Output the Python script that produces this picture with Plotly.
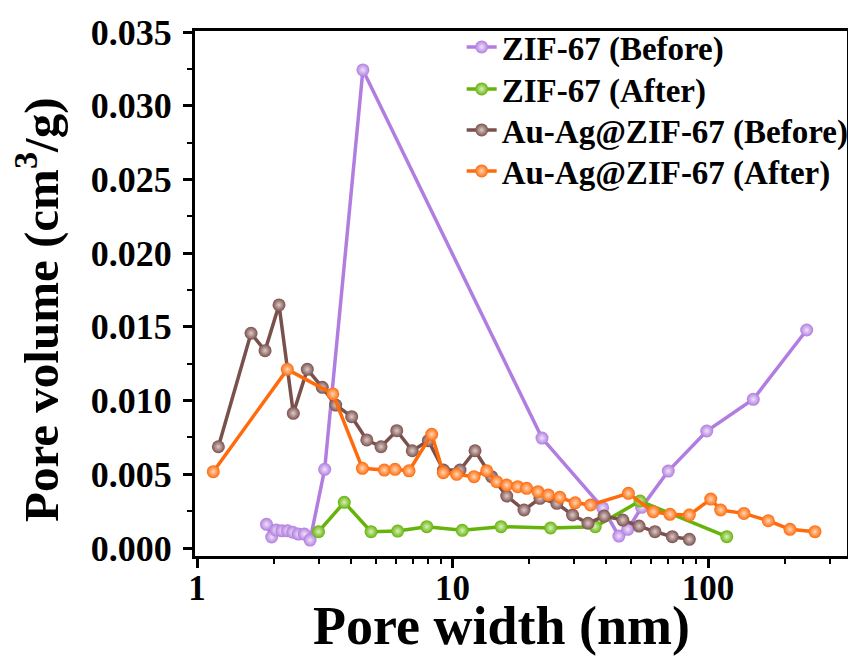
import plotly.graph_objects as go
import math

# ---------------- data ----------------
zif_before_x = [1.87, 1.96, 2.04, 2.15, 2.26, 2.37, 2.49, 2.63, 2.77, 3.16, 4.46, 22.4, 38.7, 44.8, 48.5, 55.0, 69.9, 98.9, 150.4, 243.4]
zif_before_y = [1.61, 0.75, 1.22, 1.17, 1.17, 1.07, 0.95, 0.95, 0.54, 5.34, 32.43, 7.46, 2.73, 0.81, 1.27, 2.76, 5.22, 7.94, 10.09, 14.79]

zif_after_x = [2.99, 3.77, 4.80, 6.10, 7.93, 10.92, 15.49, 24.2, 36.2, 54.2, 118.4]
zif_after_y = [1.11, 3.10, 1.11, 1.15, 1.45, 1.20, 1.45, 1.36, 1.45, 3.19, 0.77]

auag_before_x = [1.212, 1.627, 1.846, 2.094, 2.382, 2.702, 3.093, 3.49, 4.03, 4.62, 5.25, 6.05, 6.96, 8.04, 9.22,
                 10.70, 12.25, 14.23, 16.3, 19.05, 22.0, 25.6, 29.5, 33.9, 39.2, 46.4, 53.7, 62.0, 72.5, 84.5]
auag_before_y = [6.87, 14.57, 13.39, 16.49, 9.14, 12.12, 10.9, 9.70, 8.91, 7.33, 6.87, 7.96, 6.60, 7.28, 5.29,
                 5.29, 6.60, 4.84, 3.53, 2.58, 3.37, 3.03, 2.24, 1.68, 2.17, 1.90, 1.49, 1.11, 0.77, 0.59]

auag_after_x = [1.158, 2.256, 3.40, 4.44, 5.41, 5.96, 6.76, 8.29, 9.20, 10.38, 12.14, 13.61, 14.89, 16.3, 18.0, 19.5,
                21.6, 23.7, 26.3, 30.2, 34.7, 48.8, 61.1, 71.0, 84.5, 102.5, 112.1, 138.3, 172.2, 209.4, 262.3]
auag_after_y = [5.18, 12.12, 10.45, 5.41, 5.29, 5.34, 5.24, 7.71, 5.11, 5.00, 4.84, 5.24, 4.50, 4.27, 4.16, 4.05,
                3.82, 3.60, 3.44, 3.07, 2.92, 3.71, 2.46, 2.29, 2.24, 3.32, 2.58, 2.35, 1.85, 1.27, 1.11]

series_names = ["ZIF-67 (Before)", "ZIF-67 (After)", "Au-Ag@ZIF-67 (Before)", "Au-Ag@ZIF-67 (After)"]
series_colors = ["#B27DE0", "#66B30A", "#7A504C", "#FF6A0A"]
series_highlights = ["#EEE2F9", "#D8F0BA", "#DCCBC9", "#FFD6B6"]

x_tick_vals = [1, 10, 100]
x_tick_text = ["1", "10", "100"]
x_minor_vals = [2, 3, 4, 5, 6, 7, 8, 9, 20, 30, 40, 50, 60, 70, 80, 90, 200, 300]
y_tick_vals = [0.0, 0.005, 0.010, 0.015, 0.020, 0.025, 0.030, 0.035]
y_tick_text = ["0.000", "0.005", "0.010", "0.015", "0.020", "0.025", "0.030", "0.035"]

x_title = "Pore width (nm)"
y_title = "Pore volume (cm<sup>3</sup>/g)"

FONT = "Liberation Serif"
legend_ids = ["legend", "legend2", "legend3", "legend4"]
legend_y = [0.9695, 0.8895, 0.8114, 0.7333]

fig = go.Figure()
all_x = [zif_before_x, zif_after_x, auag_before_x, auag_after_x]
all_y = [zif_before_y, zif_after_y, auag_before_y, auag_after_y]
for name, xs, ys, col, hl, lg in zip(series_names, all_x, all_y, series_colors, series_highlights, legend_ids):
    fig.add_trace(go.Scatter(
        x=xs, y=[v / 1000.0 for v in ys], name=name, mode="lines+markers",
        line=dict(color=col, width=3.5),
        marker=dict(size=13, color=col, line=dict(width=0),
                    gradient=dict(type="radial", color=hl)),
        legend=lg,
    ))

legend_common = dict(x=0.409, xanchor="left", yanchor="middle",
                     bgcolor="rgba(0,0,0,0)", borderwidth=0,
                     font=dict(family=FONT, size=33, color="black", weight="bold"))
layout_legends = {}
for lg, yy in zip(legend_ids, legend_y):
    layout_legends[lg] = dict(legend_common, y=yy)

fig.update_layout(
    width=848, height=657,
    margin=dict(l=195, r=1, t=31, b=101, autoexpand=False),
    plot_bgcolor="white", paper_bgcolor="white",
    font=dict(family=FONT, color="black"),
    showlegend=True,
    **layout_legends,
)

fig.update_xaxes(
    type="log", range=[math.log10(0.982), math.log10(350)],
    automargin=False,
    showgrid=False, zeroline=False,
    showline=True, linecolor="black", linewidth=3, mirror=True,
    ticks="outside", ticklen=9, tickwidth=3, tickcolor="black",
    tickvals=x_tick_vals, ticktext=x_tick_text,
    tickfont=dict(family=FONT, size=35, color="black", weight="bold"),
    ticklabelstandoff=-10,
    minor=dict(tickvals=x_minor_vals, ticks="outside", ticklen=5, tickwidth=2, tickcolor="black", showgrid=False),
)

fig.update_yaxes(
    range=[-0.00054, 0.03507],
    automargin=False,
    showgrid=False, zeroline=False,
    showline=True, linecolor="black", linewidth=3, mirror=True,
    ticks="outside", ticklen=9, tickwidth=3, tickcolor="black",
    tickvals=y_tick_vals, ticktext=y_tick_text,
    tickfont=dict(family=FONT, size=36, color="black", weight="bold"),
    ticklabelstandoff=4,
    minor=dict(dtick=0.0025, tick0=0, ticks="outside", ticklen=5, tickwidth=2, tickcolor="black", showgrid=False),
)

# axis titles as annotations for exact placement
fig.add_annotation(text=x_title, xref="paper", yref="paper", x=0.470, y=-0.1334,
                   xanchor="center", yanchor="middle", showarrow=False,
                   font=dict(family=FONT, size=54, color="black", weight="bold"))
fig.add_annotation(text=y_title, xref="paper", yref="paper", x=-0.2408, y=0.4686,
                   xanchor="center", yanchor="middle", textangle=-90, showarrow=False,
                   font=dict(family=FONT, size=49, color="black", weight="bold"))

fig.write_html("out.html")
